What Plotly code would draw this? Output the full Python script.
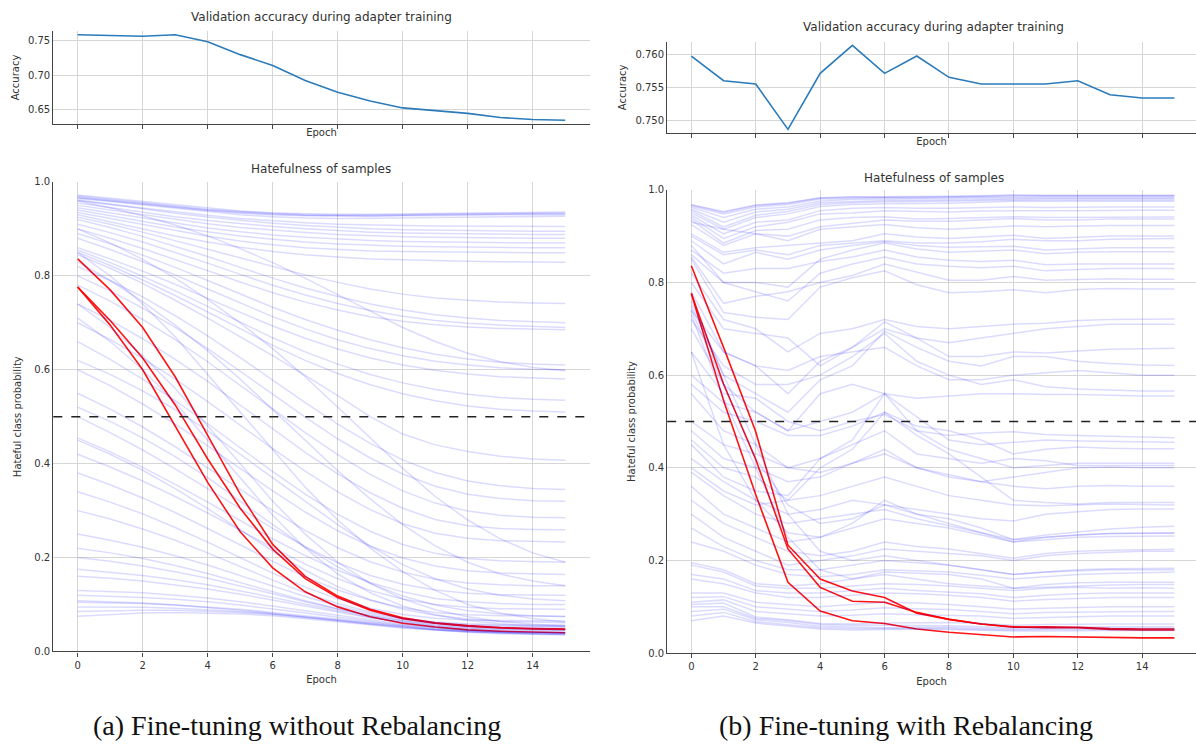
import plotly.graph_objects as go

epochs = list(range(16))
x_ticks = [0, 2, 4, 6, 8, 10, 12, 14]

acc_no_rebal = [0.759, 0.7575, 0.757, 0.759, 0.749, 0.730, 0.714, 0.692, 0.675, 0.662,
                0.652, 0.648, 0.644, 0.638, 0.635, 0.634]
acc_rebal = [0.7597, 0.7560, 0.7555, 0.7487, 0.7571, 0.7613, 0.7571, 0.7597, 0.7565, 0.7555,
             0.7555, 0.7555, 0.7560, 0.7539, 0.7534, 0.7534]

red_no_rebal = [
    [0.836, 0.770, 0.690, 0.585, 0.460, 0.335, 0.228, 0.160, 0.118, 0.090, 0.072, 0.061, 0.055, 0.051, 0.049, 0.048],
    [0.776, 0.705, 0.625, 0.525, 0.410, 0.305, 0.218, 0.155, 0.115, 0.088, 0.070, 0.060, 0.054, 0.050, 0.048, 0.047],
    [0.776, 0.695, 0.600, 0.480, 0.360, 0.255, 0.178, 0.127, 0.095, 0.074, 0.060, 0.052, 0.046, 0.043, 0.041, 0.040],
]

blue_no_rebal = [
    [0.970, 0.963, 0.956, 0.949, 0.942, 0.937, 0.933, 0.930, 0.929, 0.929, 0.930, 0.931, 0.932, 0.933, 0.933, 0.934],
    [0.968, 0.961, 0.954, 0.947, 0.940, 0.935, 0.931, 0.929, 0.928, 0.928, 0.929, 0.930, 0.931, 0.931, 0.932, 0.932],
    [0.966, 0.959, 0.952, 0.945, 0.939, 0.934, 0.930, 0.928, 0.927, 0.927, 0.928, 0.929, 0.929, 0.930, 0.930, 0.930],
    [0.972, 0.965, 0.958, 0.951, 0.944, 0.938, 0.934, 0.932, 0.931, 0.931, 0.932, 0.933, 0.934, 0.935, 0.936, 0.936],
    [0.965, 0.958, 0.950, 0.943, 0.936, 0.930, 0.926, 0.923, 0.922, 0.922, 0.923, 0.924, 0.925, 0.926, 0.927, 0.927],
    [0.960, 0.952, 0.944, 0.936, 0.929, 0.922, 0.917, 0.913, 0.910, 0.908, 0.907, 0.906, 0.906, 0.905, 0.905, 0.905],
    [0.962, 0.952, 0.942, 0.933, 0.925, 0.918, 0.912, 0.907, 0.903, 0.900, 0.898, 0.897, 0.896, 0.895, 0.895, 0.895],
    [0.955, 0.945, 0.935, 0.926, 0.918, 0.911, 0.905, 0.900, 0.896, 0.893, 0.891, 0.890, 0.889, 0.888, 0.888, 0.888],
    [0.950, 0.940, 0.930, 0.920, 0.911, 0.903, 0.897, 0.892, 0.888, 0.885, 0.883, 0.882, 0.881, 0.880, 0.880, 0.880],
    [0.945, 0.934, 0.923, 0.912, 0.902, 0.894, 0.887, 0.882, 0.878, 0.875, 0.873, 0.872, 0.871, 0.870, 0.870, 0.870],
    [0.940, 0.928, 0.916, 0.904, 0.894, 0.885, 0.878, 0.872, 0.868, 0.865, 0.863, 0.862, 0.861, 0.860, 0.860, 0.860],
    [0.935, 0.922, 0.909, 0.896, 0.884, 0.874, 0.866, 0.860, 0.856, 0.853, 0.852, 0.851, 0.850, 0.850, 0.849, 0.849],
    [0.930, 0.915, 0.900, 0.885, 0.872, 0.861, 0.852, 0.845, 0.840, 0.836, 0.834, 0.832, 0.831, 0.830, 0.830, 0.829],
    [0.925, 0.910, 0.893, 0.875, 0.857, 0.838, 0.820, 0.802, 0.786, 0.772, 0.761, 0.753, 0.748, 0.744, 0.742, 0.741],
    [0.920, 0.903, 0.884, 0.863, 0.841, 0.818, 0.795, 0.774, 0.756, 0.740, 0.727, 0.717, 0.710, 0.705, 0.702, 0.700],
    [0.910, 0.892, 0.872, 0.850, 0.827, 0.803, 0.780, 0.759, 0.741, 0.726, 0.714, 0.705, 0.699, 0.695, 0.692, 0.690],
    [0.900, 0.880, 0.858, 0.835, 0.811, 0.787, 0.764, 0.744, 0.727, 0.713, 0.703, 0.696, 0.691, 0.688, 0.686, 0.685],
    [0.890, 0.868, 0.844, 0.818, 0.790, 0.761, 0.733, 0.707, 0.684, 0.664, 0.647, 0.633, 0.623, 0.616, 0.612, 0.610],
    [0.880, 0.856, 0.830, 0.802, 0.772, 0.742, 0.713, 0.687, 0.664, 0.645, 0.630, 0.618, 0.610, 0.604, 0.601, 0.600],
    [0.860, 0.836, 0.810, 0.782, 0.752, 0.722, 0.693, 0.667, 0.644, 0.625, 0.610, 0.599, 0.591, 0.585, 0.582, 0.580],
    [0.855, 0.828, 0.799, 0.768, 0.735, 0.701, 0.668, 0.638, 0.612, 0.590, 0.572, 0.558, 0.548, 0.541, 0.537, 0.535],
    [0.850, 0.822, 0.791, 0.758, 0.723, 0.687, 0.652, 0.620, 0.592, 0.568, 0.549, 0.534, 0.523, 0.516, 0.512, 0.510],
    [0.845, 0.816, 0.784, 0.748, 0.710, 0.670, 0.630, 0.588, 0.545, 0.500, 0.463, 0.440, 0.426, 0.416, 0.410, 0.407],
    [0.820, 0.790, 0.755, 0.715, 0.672, 0.626, 0.578, 0.530, 0.484, 0.443, 0.408, 0.381, 0.363, 0.353, 0.347, 0.345],
    [0.800, 0.768, 0.731, 0.690, 0.645, 0.597, 0.548, 0.499, 0.453, 0.412, 0.378, 0.352, 0.335, 0.326, 0.321, 0.320],
    [0.780, 0.746, 0.707, 0.664, 0.617, 0.567, 0.516, 0.466, 0.419, 0.377, 0.342, 0.316, 0.299, 0.290, 0.286, 0.285],
    [0.740, 0.705, 0.666, 0.622, 0.575, 0.525, 0.474, 0.424, 0.378, 0.338, 0.305, 0.281, 0.268, 0.262, 0.260, 0.259],
    [0.700, 0.664, 0.624, 0.580, 0.532, 0.482, 0.432, 0.384, 0.340, 0.302, 0.272, 0.252, 0.241, 0.236, 0.234, 0.233],
    [0.660, 0.622, 0.580, 0.534, 0.485, 0.434, 0.383, 0.335, 0.292, 0.256, 0.228, 0.209, 0.198, 0.193, 0.191, 0.190],
    [0.600, 0.566, 0.527, 0.484, 0.438, 0.390, 0.342, 0.297, 0.257, 0.224, 0.199, 0.182, 0.172, 0.167, 0.165, 0.164],
    [0.550, 0.516, 0.478, 0.436, 0.391, 0.345, 0.300, 0.258, 0.221, 0.191, 0.169, 0.154, 0.146, 0.142, 0.140, 0.140],
    [0.500, 0.466, 0.429, 0.389, 0.347, 0.304, 0.262, 0.223, 0.189, 0.162, 0.143, 0.131, 0.124, 0.121, 0.120, 0.120],
    [0.455, 0.425, 0.392, 0.356, 0.318, 0.279, 0.240, 0.204, 0.173, 0.147, 0.127, 0.113, 0.106, 0.102, 0.100, 0.100],
    [0.420, 0.393, 0.363, 0.330, 0.295, 0.258, 0.221, 0.186, 0.155, 0.130, 0.112, 0.100, 0.094, 0.091, 0.090, 0.090],
    [0.380, 0.355, 0.327, 0.296, 0.262, 0.227, 0.192, 0.159, 0.131, 0.109, 0.093, 0.083, 0.078, 0.076, 0.075, 0.075],
    [0.340, 0.318, 0.293, 0.264, 0.233, 0.200, 0.167, 0.137, 0.112, 0.092, 0.079, 0.071, 0.067, 0.066, 0.065, 0.065],
    [0.300, 0.282, 0.261, 0.237, 0.210, 0.181, 0.152, 0.125, 0.102, 0.084, 0.071, 0.063, 0.059, 0.057, 0.056, 0.056],
    [0.250, 0.237, 0.222, 0.204, 0.184, 0.162, 0.139, 0.117, 0.097, 0.081, 0.069, 0.061, 0.057, 0.055, 0.054, 0.054],
    [0.220, 0.210, 0.198, 0.183, 0.166, 0.147, 0.127, 0.108, 0.091, 0.077, 0.066, 0.059, 0.054, 0.052, 0.051, 0.051],
    [0.200, 0.192, 0.182, 0.170, 0.156, 0.140, 0.123, 0.106, 0.090, 0.076, 0.065, 0.057, 0.052, 0.049, 0.048, 0.048],
    [0.175, 0.169, 0.162, 0.153, 0.142, 0.129, 0.115, 0.100, 0.086, 0.073, 0.063, 0.055, 0.050, 0.047, 0.046, 0.045],
    [0.160, 0.156, 0.150, 0.142, 0.133, 0.122, 0.110, 0.097, 0.084, 0.072, 0.062, 0.054, 0.049, 0.046, 0.045, 0.044],
    [0.130, 0.128, 0.125, 0.120, 0.114, 0.106, 0.097, 0.087, 0.077, 0.067, 0.058, 0.051, 0.046, 0.043, 0.042, 0.041],
    [0.120, 0.118, 0.115, 0.111, 0.106, 0.099, 0.091, 0.082, 0.073, 0.064, 0.056, 0.050, 0.045, 0.042, 0.041, 0.040],
    [0.108, 0.106, 0.103, 0.099, 0.094, 0.088, 0.081, 0.073, 0.065, 0.058, 0.051, 0.046, 0.042, 0.040, 0.039, 0.038],
    [0.105, 0.104, 0.102, 0.099, 0.095, 0.090, 0.083, 0.076, 0.068, 0.061, 0.054, 0.048, 0.044, 0.041, 0.040, 0.039],
    [0.095, 0.095, 0.094, 0.092, 0.089, 0.085, 0.080, 0.074, 0.067, 0.060, 0.053, 0.047, 0.043, 0.040, 0.038, 0.037],
    [0.085, 0.087, 0.088, 0.088, 0.086, 0.083, 0.079, 0.073, 0.066, 0.059, 0.052, 0.046, 0.042, 0.039, 0.037, 0.036],
    [0.075, 0.079, 0.082, 0.083, 0.082, 0.080, 0.076, 0.070, 0.064, 0.057, 0.050, 0.045, 0.041, 0.038, 0.036, 0.035],
    [0.740, 0.690, 0.630, 0.560, 0.480, 0.400, 0.320, 0.250, 0.190, 0.145, 0.112, 0.089, 0.074, 0.064, 0.058, 0.055],
    [0.710, 0.660, 0.600, 0.530, 0.450, 0.370, 0.290, 0.220, 0.165, 0.125, 0.097, 0.078, 0.066, 0.059, 0.055, 0.053],
    [0.850, 0.800, 0.740, 0.670, 0.590, 0.510, 0.430, 0.350, 0.280, 0.220, 0.170, 0.130, 0.100, 0.082, 0.070, 0.063],
    [0.830, 0.790, 0.745, 0.695, 0.640, 0.580, 0.515, 0.450, 0.385, 0.325, 0.270, 0.225, 0.190, 0.165, 0.150, 0.140],
    [0.900, 0.870, 0.835, 0.795, 0.750, 0.700, 0.645, 0.585, 0.520, 0.455, 0.390, 0.330, 0.280, 0.240, 0.210, 0.190],
    [0.620, 0.590, 0.555, 0.515, 0.470, 0.420, 0.370, 0.320, 0.270, 0.225, 0.185, 0.155, 0.133, 0.120, 0.112, 0.108],
    [0.520, 0.490, 0.455, 0.415, 0.370, 0.320, 0.270, 0.222, 0.180, 0.145, 0.118, 0.099, 0.087, 0.080, 0.076, 0.074],
    [0.450, 0.420, 0.386, 0.347, 0.304, 0.259, 0.214, 0.173, 0.138, 0.110, 0.090, 0.077, 0.069, 0.064, 0.062, 0.061],
    [0.960, 0.945, 0.928, 0.908, 0.885, 0.858, 0.828, 0.795, 0.760, 0.725, 0.690, 0.660, 0.635, 0.617, 0.605, 0.598],
]

red_rebal = [
    [0.836, 0.660, 0.478, 0.233, 0.160, 0.134, 0.120, 0.086, 0.073, 0.063, 0.056, 0.057, 0.056, 0.053, 0.052, 0.052],
    [0.776, 0.581, 0.418, 0.225, 0.142, 0.112, 0.110, 0.088, 0.073, 0.063, 0.057, 0.055, 0.055, 0.051, 0.050, 0.050],
    [0.776, 0.545, 0.342, 0.153, 0.091, 0.070, 0.064, 0.052, 0.045, 0.040, 0.035, 0.036, 0.035, 0.033, 0.033, 0.033],
]

blue_rebal = [
    [0.968, 0.953, 0.967, 0.972, 0.983, 0.985, 0.985, 0.985, 0.986, 0.987, 0.989, 0.988, 0.988, 0.988, 0.988, 0.988],
    [0.967, 0.951, 0.966, 0.971, 0.982, 0.984, 0.984, 0.984, 0.985, 0.986, 0.988, 0.987, 0.987, 0.987, 0.987, 0.987],
    [0.965, 0.948, 0.963, 0.968, 0.980, 0.982, 0.983, 0.983, 0.984, 0.985, 0.986, 0.986, 0.986, 0.986, 0.986, 0.986],
    [0.962, 0.940, 0.958, 0.963, 0.976, 0.979, 0.980, 0.980, 0.981, 0.982, 0.983, 0.983, 0.983, 0.983, 0.983, 0.983],
    [0.958, 0.930, 0.952, 0.958, 0.972, 0.975, 0.977, 0.977, 0.978, 0.980, 0.981, 0.981, 0.981, 0.981, 0.981, 0.981],
    [0.955, 0.920, 0.945, 0.953, 0.968, 0.972, 0.974, 0.974, 0.975, 0.977, 0.978, 0.978, 0.978, 0.978, 0.978, 0.978],
    [0.950, 0.915, 0.940, 0.948, 0.964, 0.968, 0.970, 0.970, 0.971, 0.973, 0.975, 0.975, 0.975, 0.975, 0.975, 0.975],
    [0.945, 0.905, 0.930, 0.935, 0.955, 0.960, 0.962, 0.960, 0.960, 0.962, 0.963, 0.962, 0.963, 0.963, 0.963, 0.963],
    [0.940, 0.895, 0.920, 0.930, 0.948, 0.950, 0.955, 0.953, 0.952, 0.954, 0.955, 0.955, 0.955, 0.956, 0.956, 0.956],
    [0.935, 0.885, 0.912, 0.915, 0.935, 0.940, 0.942, 0.937, 0.938, 0.940, 0.942, 0.940, 0.940, 0.941, 0.941, 0.941],
    [0.930, 0.915, 0.905, 0.900, 0.920, 0.928, 0.935, 0.932, 0.932, 0.935, 0.938, 0.935, 0.935, 0.937, 0.937, 0.937],
    [0.925, 0.880, 0.905, 0.890, 0.915, 0.920, 0.925, 0.918, 0.915, 0.918, 0.922, 0.920, 0.922, 0.923, 0.923, 0.923],
    [0.905, 0.865, 0.875, 0.880, 0.885, 0.890, 0.905, 0.898, 0.895, 0.898, 0.902, 0.895, 0.898, 0.900, 0.900, 0.900],
    [0.900, 0.860, 0.870, 0.860, 0.880, 0.885, 0.890, 0.885, 0.885, 0.888, 0.893, 0.890, 0.890, 0.893, 0.894, 0.895],
    [0.890, 0.840, 0.865, 0.850, 0.870, 0.880, 0.888, 0.880, 0.876, 0.877, 0.878, 0.870, 0.872, 0.875, 0.875, 0.875],
    [0.880, 0.800, 0.800, 0.790, 0.850, 0.870, 0.885, 0.872, 0.865, 0.868, 0.870, 0.862, 0.865, 0.866, 0.866, 0.866],
    [0.870, 0.820, 0.830, 0.830, 0.845, 0.855, 0.870, 0.855, 0.848, 0.845, 0.848, 0.838, 0.840, 0.840, 0.840, 0.840],
    [0.860, 0.800, 0.780, 0.760, 0.820, 0.840, 0.855, 0.840, 0.835, 0.832, 0.835, 0.825, 0.828, 0.830, 0.830, 0.830],
    [0.855, 0.755, 0.770, 0.780, 0.800, 0.815, 0.840, 0.822, 0.805, 0.805, 0.813, 0.805, 0.806, 0.808, 0.807, 0.807],
    [0.850, 0.735, 0.725, 0.720, 0.790, 0.810, 0.825, 0.795, 0.778, 0.780, 0.784, 0.778, 0.785, 0.787, 0.786, 0.786],
    [0.820, 0.720, 0.700, 0.650, 0.690, 0.700, 0.720, 0.705, 0.700, 0.705, 0.710, 0.712, 0.718, 0.720, 0.721, 0.721],
    [0.800, 0.700, 0.690, 0.680, 0.620, 0.660, 0.700, 0.680, 0.670, 0.680, 0.690, 0.700, 0.705, 0.710, 0.710, 0.710],
    [0.780, 0.650, 0.620, 0.560, 0.630, 0.660, 0.715, 0.680, 0.640, 0.640, 0.650, 0.648, 0.652, 0.656, 0.657, 0.658],
    [0.760, 0.600, 0.560, 0.520, 0.590, 0.620, 0.695, 0.660, 0.630, 0.620, 0.640, 0.640, 0.630, 0.625, 0.622, 0.621],
    [0.740, 0.650, 0.620, 0.610, 0.640, 0.650, 0.660, 0.620, 0.590, 0.590, 0.600, 0.605, 0.610, 0.605, 0.600, 0.600],
    [0.720, 0.620, 0.580, 0.580, 0.600, 0.640, 0.690, 0.630, 0.600, 0.580, 0.590, 0.575, 0.570, 0.568, 0.566, 0.566],
    [0.700, 0.580, 0.520, 0.480, 0.560, 0.580, 0.560, 0.550, 0.555, 0.560, 0.560, 0.558, 0.558, 0.556, 0.555, 0.555],
    [0.650, 0.560, 0.550, 0.500, 0.480, 0.500, 0.515, 0.480, 0.470, 0.475, 0.478, 0.472, 0.470, 0.468, 0.466, 0.465],
    [0.600, 0.540, 0.520, 0.480, 0.500, 0.520, 0.560, 0.510, 0.460, 0.450, 0.455, 0.460, 0.458, 0.457, 0.456, 0.455],
    [0.580, 0.520, 0.500, 0.470, 0.470, 0.490, 0.520, 0.490, 0.480, 0.460, 0.430, 0.440, 0.445, 0.442, 0.441, 0.441],
    [0.560, 0.480, 0.450, 0.400, 0.420, 0.450, 0.480, 0.430, 0.420, 0.410, 0.420, 0.415, 0.405, 0.405, 0.405, 0.405],
    [0.500, 0.450, 0.430, 0.400, 0.390, 0.410, 0.440, 0.400, 0.380, 0.370, 0.380, 0.390, 0.400, 0.402, 0.400, 0.400],
    [0.480, 0.420, 0.400, 0.370, 0.380, 0.410, 0.430, 0.400, 0.385, 0.370, 0.360, 0.355, 0.360, 0.362, 0.360, 0.360],
    [0.460, 0.400, 0.380, 0.330, 0.340, 0.360, 0.380, 0.360, 0.340, 0.330, 0.320, 0.318, 0.320, 0.322, 0.321, 0.320],
    [0.420, 0.370, 0.330, 0.300, 0.310, 0.330, 0.320, 0.310, 0.300, 0.290, 0.285, 0.300, 0.305, 0.310, 0.311, 0.311],
    [0.390, 0.340, 0.300, 0.280, 0.290, 0.300, 0.310, 0.290, 0.275, 0.260, 0.245, 0.255, 0.262, 0.268, 0.272, 0.274],
    [0.360, 0.300, 0.270, 0.240, 0.250, 0.270, 0.290, 0.280, 0.270, 0.255, 0.240, 0.250, 0.255, 0.258, 0.259, 0.259],
    [0.330, 0.280, 0.250, 0.220, 0.210, 0.220, 0.240, 0.230, 0.225, 0.215, 0.205, 0.215, 0.220, 0.222, 0.223, 0.224],
    [0.300, 0.250, 0.220, 0.190, 0.200, 0.210, 0.225, 0.220, 0.215, 0.210, 0.200, 0.210, 0.215, 0.218, 0.220, 0.220],
    [0.270, 0.230, 0.200, 0.180, 0.180, 0.190, 0.200, 0.195, 0.190, 0.180, 0.170, 0.175, 0.178, 0.180, 0.180, 0.180],
    [0.240, 0.220, 0.190, 0.170, 0.165, 0.170, 0.180, 0.178, 0.175, 0.168, 0.160, 0.165, 0.170, 0.172, 0.174, 0.175],
    [0.195, 0.180, 0.150, 0.145, 0.150, 0.160, 0.175, 0.172, 0.170, 0.160, 0.140, 0.148, 0.152, 0.153, 0.153, 0.153],
    [0.190, 0.175, 0.145, 0.140, 0.140, 0.145, 0.150, 0.148, 0.145, 0.140, 0.135, 0.140, 0.142, 0.140, 0.141, 0.140],
    [0.170, 0.160, 0.135, 0.130, 0.130, 0.135, 0.140, 0.135, 0.132, 0.128, 0.120, 0.125, 0.128, 0.130, 0.130, 0.130],
    [0.160, 0.150, 0.130, 0.120, 0.120, 0.125, 0.130, 0.128, 0.125, 0.120, 0.112, 0.116, 0.118, 0.120, 0.120, 0.120],
    [0.130, 0.130, 0.110, 0.105, 0.100, 0.105, 0.110, 0.108, 0.105, 0.100, 0.095, 0.097, 0.099, 0.100, 0.100, 0.100],
    [0.120, 0.122, 0.100, 0.095, 0.090, 0.093, 0.098, 0.096, 0.094, 0.090, 0.085, 0.088, 0.089, 0.090, 0.090, 0.090],
    [0.110, 0.115, 0.090, 0.085, 0.080, 0.082, 0.085, 0.083, 0.082, 0.080, 0.075, 0.077, 0.079, 0.080, 0.080, 0.080],
    [0.105, 0.108, 0.078, 0.072, 0.064, 0.063, 0.065, 0.066, 0.066, 0.064, 0.060, 0.062, 0.063, 0.063, 0.063, 0.063],
    [0.100, 0.100, 0.075, 0.070, 0.062, 0.060, 0.060, 0.060, 0.059, 0.057, 0.055, 0.056, 0.057, 0.057, 0.057, 0.057],
    [0.090, 0.095, 0.072, 0.066, 0.058, 0.056, 0.055, 0.056, 0.056, 0.054, 0.052, 0.053, 0.054, 0.054, 0.054, 0.054],
    [0.080, 0.088, 0.068, 0.062, 0.055, 0.053, 0.053, 0.054, 0.053, 0.051, 0.050, 0.051, 0.051, 0.051, 0.051, 0.051],
    [0.070, 0.080, 0.065, 0.058, 0.052, 0.050, 0.051, 0.052, 0.051, 0.049, 0.048, 0.048, 0.049, 0.049, 0.049, 0.049],
    [0.750, 0.600, 0.450, 0.300, 0.220, 0.200, 0.210, 0.200, 0.190, 0.180, 0.170, 0.175, 0.180, 0.182, 0.183, 0.183],
    [0.740, 0.580, 0.420, 0.320, 0.280, 0.290, 0.320, 0.300, 0.290, 0.270, 0.245, 0.250, 0.255, 0.258, 0.259, 0.260],
    [0.730, 0.550, 0.400, 0.250, 0.180, 0.160, 0.170, 0.160, 0.150, 0.145, 0.140, 0.142, 0.145, 0.147, 0.148, 0.148],
    [0.650, 0.450, 0.330, 0.260, 0.250, 0.280, 0.330, 0.300, 0.280, 0.260, 0.240, 0.245, 0.250, 0.252, 0.253, 0.253],
    [0.450, 0.380, 0.350, 0.340, 0.420, 0.460, 0.560, 0.480, 0.440, 0.420, 0.400, 0.405, 0.410, 0.410, 0.410, 0.410],
    [0.400, 0.350, 0.320, 0.330, 0.400, 0.440, 0.520, 0.470, 0.430, 0.380, 0.330, 0.325, 0.322, 0.325, 0.325, 0.325],
]

FONT = "DejaVu Sans"
TXT = "#333333"
GRID = "#d6d6d6"
AX = "#444444"
BLUE = "rgba(0,0,255,0.14)"
RED = "rgba(255,0,0,0.92)"

fig = go.Figure()

def add_line(ys, xa, ya, color, width):
    fig.add_trace(go.Scatter(x=epochs, y=ys, mode="lines", xaxis=xa, yaxis=ya,
                             line=dict(color=color, width=width),
                             showlegend=False, hoverinfo="skip"))

add_line(acc_no_rebal, "x", "y", "#2b7bba", 1.6)
add_line(acc_rebal, "x2", "y2", "#2b7bba", 1.6)
for ys in red_no_rebal:
    add_line(ys, "x3", "y3", RED, 1.6)
for ys in blue_no_rebal:
    add_line(ys, "x3", "y3", BLUE, 1.5)
for ys in red_rebal:
    add_line(ys, "x4", "y4", RED, 1.6)
for ys in blue_rebal:
    add_line(ys, "x4", "y4", BLUE, 1.5)

W, H = 1196, 744
left_dom = [53.3 / W, 589.6 / W]
right_dom = [667.2 / W, 1.0]
xr_left = [-0.75, 15.75]
xr_right = [-0.75, 15.67]

def xax(dom, rng, labels, anchor, standoff):
    return dict(domain=dom, range=rng, tickvals=x_ticks, showticklabels=labels,
                ticks="outside", ticklen=4, tickcolor=AX, showgrid=True, gridcolor=GRID,
                gridwidth=1, showline=True, linecolor=AX, linewidth=1.2, zeroline=False,
                anchor=anchor, tickfont=dict(family=FONT, size=10, color=TXT),
                title=dict(text="Epoch", font=dict(family=FONT, size=10, color=TXT), standoff=standoff))

def yax(dom, rng, tickvals, ticktext, title, anchor, standoff):
    return dict(domain=dom, range=rng, tickvals=tickvals, ticktext=ticktext,
                ticks="", showgrid=True, gridcolor=GRID, gridwidth=1, showline=True,
                linecolor=AX, linewidth=1.2, zeroline=False, anchor=anchor,
                tickfont=dict(family=FONT, size=10, color=TXT),
                title=dict(text=title, font=dict(family=FONT, size=10, color=TXT), standoff=standoff))

fig.update_layout(
    width=W, height=H, margin=dict(l=0, r=0, t=0, b=0),
    paper_bgcolor="white", plot_bgcolor="white",
    xaxis=xax(left_dom, xr_left, False, "y", 0),
    xaxis2=xax(right_dom, xr_right, False, "y2", 0),
    xaxis3=xax(left_dom, xr_left, True, "y3", 6),
    xaxis4=xax(right_dom, xr_right, True, "y4", 6),
    yaxis=yax([1 - 121 / H, 1 - 26 / H], [0.6279, 0.7651],
              [0.65, 0.70, 0.75], ["0.65", "0.70", "0.75"], "Accuracy", "x", 6),
    yaxis2=yax([1 - 130 / H, 1 - 37 / H], [0.74812, 0.76188],
               [0.750, 0.755, 0.760], ["0.750", "0.755", "0.760"], "Accuracy", "x2", 6),
    yaxis3=yax([1 - 655.3 / H, 1 - 179.3 / H], [0, 1],
               [0, 0.2, 0.4, 0.6, 0.8, 1.0], ["0.0", "0.2", "0.4", "0.6", "0.8", "1.0"],
               "Hateful class probability", "x3", 10),
    yaxis4=yax([1 - 657 / H, 1 - 187.3 / H], [0, 1],
               [0, 0.2, 0.4, 0.6, 0.8, 1.0], ["0.0", "0.2", "0.4", "0.6", "0.8", "1.0"],
               "Hateful class probability", "x4", 10),
)

for xa, ya in [("x3", "y3"), ("x4", "y4")]:
    fig.add_shape(type="line", xref=f"{xa} domain", yref=ya, x0=0, x1=1, y0=0.5, y1=0.5,
                  line=dict(color="#222222", width=1.5, dash="dash"))

titles = [
    ("Validation accuracy during adapter training", (53.3 + 589.6) / 2, 12),
    ("Validation accuracy during adapter training", (667.2 + 1200) / 2, 22),
    ("Hatefulness of samples", (53.3 + 589.6) / 2, 166),
    ("Hatefulness of samples", (667.2 + 1200) / 2, 175),
]
for text, px, py in titles:
    fig.add_annotation(text=text, xref="paper", yref="paper", x=px / W, y=1 - py / H,
                       xanchor="center", yanchor="middle", showarrow=False,
                       font=dict(family=FONT, size=12, color=TXT))

captions = [
    ("(a) Fine-tuning without Rebalancing", 297, 730),
    ("(b) Fine-tuning with Rebalancing", 906, 730),
]
for text, px, py in captions:
    fig.add_annotation(text=text, xref="paper", yref="paper", x=px / W, y=1 - py / H,
                       xanchor="center", yanchor="middle", showarrow=False,
                       font=dict(family="Liberation Serif", size=28, color="#111111"))

fig.write_html("out.html")
